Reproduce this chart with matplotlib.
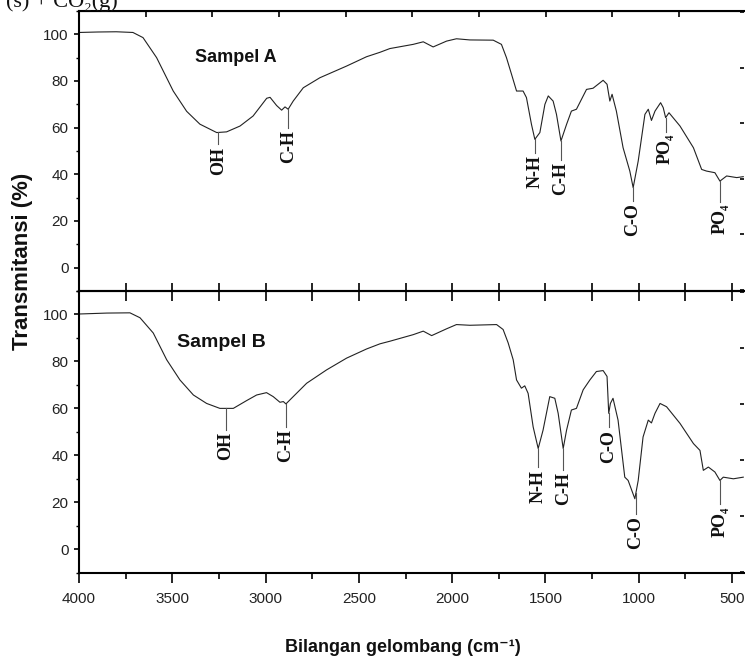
import numpy as np
import matplotlib
matplotlib.use("Agg")
import matplotlib.pyplot as plt
from matplotlib.ticker import MultipleLocator, NullFormatter

# Spektrum FTIR sampel A (atas)
wn_a = [4000, 3900, 3800, 3711, 3657, 3584, 3495, 3423, 3352, 3262, 3209, 3137, 3067,
        2994, 2976, 2941, 2914, 2896, 2879, 2852, 2798, 2709, 2566, 2459, 2387, 2334,
        2209, 2155, 2102, 2030, 1977, 1905, 1780, 1736, 1709, 1682, 1655, 1620, 1602,
        1575, 1557, 1530, 1503, 1485, 1459, 1441, 1417, 1387, 1361, 1334, 1280, 1245,
        1191, 1170, 1155, 1143, 1120, 1084, 1048, 1030, 1003, 967, 949, 932, 913, 883,
        869, 856, 838, 779, 707, 663, 637, 592, 565, 529, 475, 440]
t_a = [100.8, 101.0, 101.1, 100.8, 98.6, 90.0, 75.7, 67.0, 61.5, 57.9, 58.2, 60.7, 65.0,
       72.6, 73.0, 69.5, 67.5, 68.9, 67.9, 71.4, 77.1, 81.4, 86.4, 90.4, 92.3, 93.9,
       95.7, 96.8, 94.6, 97.1, 98.1, 97.6, 97.5, 95.7, 90.0, 82.9, 75.7, 75.7, 72.9,
       61.4, 55.0, 57.9, 70.0, 73.6, 71.4, 65.7, 54.3, 61.4, 67.1, 67.9, 76.4, 76.9,
       80.3, 78.6, 71.4, 74.3, 67.1, 51.4, 41.4, 34.3, 45.7, 65.7, 67.9, 63.1, 67.1, 70.7,
       68.6, 64.3, 66.4, 60.7, 51.4, 42.1, 41.4, 40.7, 37.1, 39.3, 38.6, 39.0]

# Spektrum FTIR sampel B (bawah)
wn_b = [4000, 3850, 3727, 3673, 3602, 3530, 3459, 3387, 3316, 3245, 3173, 3102, 3048,
        2995, 2959, 2923, 2905, 2891, 2852, 2780, 2673, 2566, 2459, 2387, 2334, 2209,
        2155, 2110, 2030, 1977, 1905, 1762, 1727, 1700, 1673, 1655, 1629, 1611, 1593,
        1566, 1539, 1513, 1477, 1450, 1432, 1405, 1387, 1361, 1334, 1298, 1262, 1227,
        1191, 1170, 1161, 1152, 1138, 1111, 1075, 1057, 1021, 1003, 977, 949, 932, 913,
        886, 851, 779, 707, 672, 654, 627, 592, 565, 547, 493, 440]
t_b = [100.2, 100.6, 100.7, 98.6, 92.1, 80.7, 72.1, 65.7, 62.1, 60.0, 60.0, 63.3, 65.7,
       66.7, 65.0, 62.6, 62.9, 61.9, 65.0, 70.7, 76.4, 81.4, 85.3, 87.5, 88.6, 91.4,
       92.9, 91.0, 93.9, 95.7, 95.4, 95.7, 93.6, 87.9, 80.7, 72.1, 68.6, 69.6, 66.4,
       52.1, 42.9, 50.7, 65.0, 64.3, 57.9, 42.9, 50.7, 59.3, 60.0, 67.9, 72.1, 75.7,
       76.1, 73.6, 57.9, 62.1, 64.3, 55.0, 30.7, 29.3, 21.5, 29.3, 47.8, 55.0, 53.8, 57.9,
       62.1, 60.7, 53.6, 45.0, 42.1, 33.6, 35.0, 32.9, 29.3, 30.7, 30.0, 30.7]

# puncak yang diberi label
peaks_a = ["OH", "C-H", "N-H", "C-H", "C-O", "PO₄", "PO₄"]
peak_wn_a = [3254, 2879, 1556, 1417, 1031, 856, 562]
drop_a = [5, 8, 6, 8, 6, 6, 9]

peaks_b = ["OH", "C-H", "N-H", "C-H", "C-O", "C-O", "PO₄"]
peak_wn_b = [3212, 2893, 1539, 1405, 1161, 1015, 565]
drop_b = [9, 10, 8, 9, 6, 9, 10]

W, H = 745, 666
fig = plt.figure(figsize=(W / 100, H / 100), dpi=100)
left, right = 79 / W, 744 / W
ax1 = fig.add_axes([left, 1 - 291 / H, right - left, 280 / H])
ax2 = fig.add_axes([left, 1 - 572.7 / H, right - left, 281.7 / H])

serif = ["Liberation Serif", "DejaVu Serif"]
sans = ["Liberation Sans", "DejaVu Sans"]


def panel(ax, wn, t, names, pwn, drops, title, tsize, txy):
    ax.plot(wn, t, color="#222222", lw=0.8)
    ax.set_xlim(4000, 436)
    ax.set_ylim(-10, 110)
    ax.yaxis.set_major_locator(MultipleLocator(20))
    ax.yaxis.set_minor_locator(MultipleLocator(10))
    ax.tick_params(axis="y", which="major", direction="out", length=3.6, width=1.2,
                   pad=4, labelsize=11, labelcolor="#222222")
    ax.tick_params(axis="y", which="minor", direction="out", length=2.5, width=1.0)
    for lab in ax.get_yticklabels():
        lab.set_family(sans)
    for s in ["left", "top", "bottom"]:
        ax.spines[s].set_linewidth(1.5)
    ax.spines["right"].set_visible(False)

    # tanda kecil di sisi kanan
    sec = ax.secondary_yaxis("right")
    sec.set_yticks(np.arange(109.5, -10, -23.8))
    sec.yaxis.set_major_formatter(NullFormatter())
    sec.tick_params(direction="in", length=3, width=1.2)
    sec.spines["right"].set_visible(False)

    for name, w, d in zip(names, pwn, drops):
        y0 = np.interp(w, wn[::-1], t[::-1])
        ax.plot([w, w], [y0, y0 - d], color="#555555", lw=0.8)
        ax.text(w, y0 - d - 1, name, rotation=90, ha="center", va="top",
                fontsize=13, fontweight="bold", family=serif, color="#111111")

    ax.text(txy[0], txy[1], title, ha="center", va="center", fontsize=tsize,
            fontweight="bold", family=sans, color="#111111")


panel(ax1, wn_a, t_a, peaks_a, peak_wn_a, drop_a, "Sampel A", 13, (3159, 90))
panel(ax2, wn_b, t_b, peaks_b, peak_wn_b, drop_b, "Sampel B", 14, (3235, 88))

# panel atas: sumbu x tanpa label
ax1.xaxis.set_major_locator(MultipleLocator(250))
ax1.xaxis.set_major_formatter(NullFormatter())
ax1.tick_params(axis="x", which="major", direction="in", length=5.8, width=1.2)
top1 = ax1.secondary_xaxis("top")
top1.set_xticks(np.arange(3643, 436, -357.2))
top1.xaxis.set_major_formatter(NullFormatter())
top1.tick_params(direction="in", length=4, width=1.2)

# panel bawah
ax2.xaxis.set_major_locator(MultipleLocator(500))
ax2.xaxis.set_minor_locator(MultipleLocator(250))
ax2.tick_params(axis="x", which="major", direction="out", length=7.2, width=1.2,
                pad=7, labelsize=11, labelcolor="#222222")
ax2.tick_params(axis="x", which="minor", direction="out", length=4, width=1.2)
for lab in ax2.get_xticklabels():
    lab.set_family(sans)
top2 = ax2.secondary_xaxis("top")
top2.xaxis.set_major_locator(MultipleLocator(250))
top2.xaxis.set_major_formatter(NullFormatter())
top2.tick_params(direction="in", length=7.2, width=1.2)

fig.text(23 / W, 1 - 261 / H, "Transmitansi (%)", rotation=90, ha="center",
         va="center", fontsize=16, fontweight="bold", family=sans, color="#111111")
fig.text(403 / W, 1 - 651.7 / H, "Bilangan gelombang (cm⁻¹)", ha="center",
         va="baseline", fontsize=13, fontweight="bold", family=sans, color="#111111")
fig.text(118 / W, 1 - 6.5 / H, "(s) + CO₂(g)", ha="right", va="baseline",
         fontsize=16, family=serif, color="#111111")

fig.savefig("out.png", dpi=100)
